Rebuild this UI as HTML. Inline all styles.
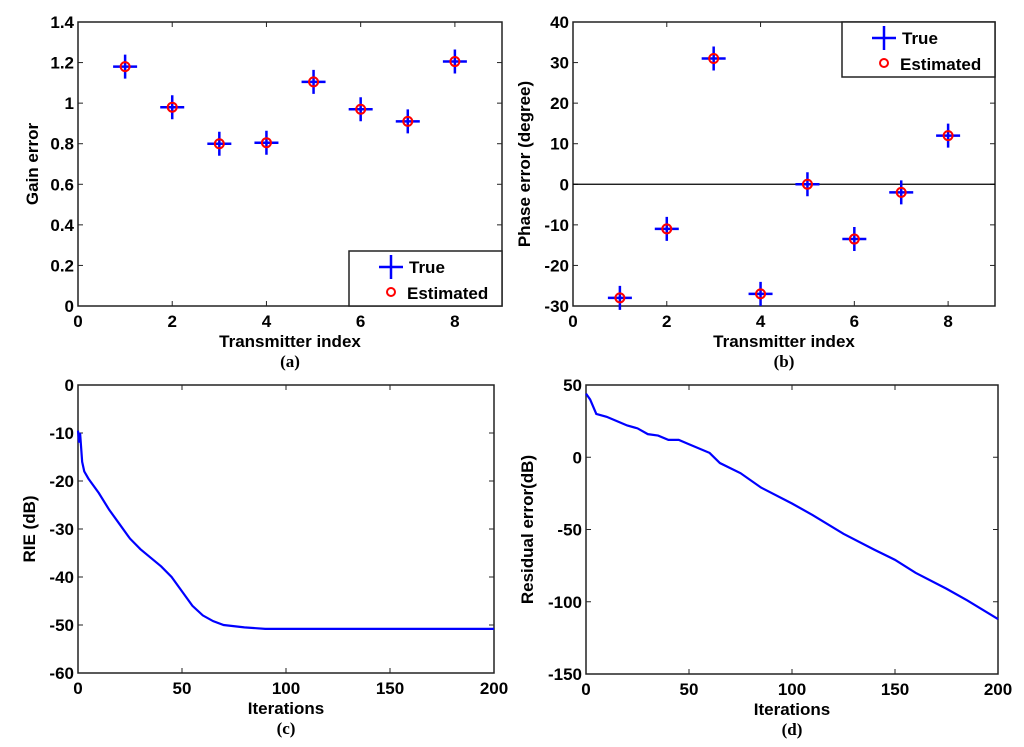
<!DOCTYPE html>
<html><head><meta charset="utf-8"><style>
body{margin:0;background:#fff}
svg{display:block}
text{font-family:"Liberation Sans",Arial,sans-serif;font-weight:bold;font-size:17px;fill:#000}
.cap{font-family:"Liberation Serif",serif;font-size:17px}
</style></head><body>
<svg id="c" width="1024" height="747"></svg>
<script>
const idxCats=[1,2,3,4,5,6,7,8];
const gainTrue=[1.18,0.98,0.80,0.805,1.105,0.97,0.91,1.205];
const gainEst=[1.18,0.98,0.80,0.805,1.105,0.97,0.91,1.205];
const phaseTrue=[-28,-11,31,-27,0,-13.5,-2,12];
const phaseEst=[-28,-11,31,-27,0,-13.5,-2,12];
const rieIter=[0,0.5,1,2,3,5,10,15,20,25,30,35,40,45,50,55,60,65,70,80,90,200];
const rieVal=[-9.5,-12,-10,-16,-18,-19.5,-22.5,-26,-29,-32,-34.2,-36,-37.8,-40,-43,-46,-48,-49.2,-50,-50.5,-50.8,-50.8];
const resIter=[0,2,5,10,15,20,25,30,35,40,45,50,60,65,75,85,100,110,125,140,150,160,175,185,200];
const resVal=[44,40,30,28,25,22,20,16,15,12,12,9,3,-4,-11,-21,-32,-40,-53,-64,-71,-80,-91,-99,-112];
const xTicksA=[0,2,4,6,8],yTicksA=[0,0.2,0.4,0.6,0.8,1,1.2,1.4];
const yTicksB=[-30,-20,-10,0,10,20,30,40];
const xTicksC=[0,50,100,150,200],yTicksC=[-60,-50,-40,-30,-20,-10,0];
const yTicksD=[-150,-100,-50,0,50];
const svg=document.getElementById('c');const NS='http://www.w3.org/2000/svg';
function mk(t,a,p){const e=document.createElementNS(NS,t);for(const k in a)e.setAttribute(k,a[k]);(p||svg).appendChild(e);return e;}
function axes(name,L,R,T,B,x0,x1,y0,y1,xt,yt,xl,yl,cap,ylx){
  const g=mk('g',{});
  
  
  const sx=v=>L+(v-x0)/(x1-x0)*(R-L),sy=v=>B-(v-y0)/(y1-y0)*(B-T);
  const fr=mk('rect',{x:L,y:T,width:R-L,height:B-T,fill:'none',stroke:'#222','stroke-width':1.5},g);
  
  xt.forEach(v=>{const x=sx(v);mk('line',{x1:x,x2:x,y1:B,y2:B-5,stroke:'#222'},g);mk('line',{x1:x,x2:x,y1:T,y2:T+5,stroke:'#222'},g);
    const t=mk('text',{x:x,y:B+21,'text-anchor':'middle'},g);t.textContent=v;
    });
  yt.forEach(v=>{const y=sy(v);mk('line',{x1:L,x2:L+5,y1:y,y2:y,stroke:'#222'},g);mk('line',{x1:R,x2:R-5,y1:y,y2:y,stroke:'#222'},g);
    const t=mk('text',{x:L-4,y:y+6,'text-anchor':'end'},g);t.textContent=v;
    });
  const xt2=mk('text',{x:(L+R)/2,y:B+41,'text-anchor':'middle'},g);xt2.textContent=xl;
  
  const yy=(T+B)/2;const yt2=mk('text',{x:ylx,y:yy,'text-anchor':'middle',transform:`rotate(-90 ${ylx} ${yy})`},g);yt2.textContent=yl;
  
  const c=mk('text',{x:(L+R)/2,y:B+61,'text-anchor':'middle',class:'cap'},g);c.textContent=cap;
  
  return {g,sx,sy};
}
function scatter(ax,xs,tr,es){
  xs.forEach((xv,i)=>{const x=ax.sx(xv),y=ax.sy(tr[i]);
    const p=mk('path',{d:`M${x-12} ${y}H${x+12}M${x} ${y-12}V${y+12}`,stroke:'#0000ff','stroke-width':2.5},ax.g);
    
    const c=mk('circle',{cx:x,cy:ax.sy(es[i]),r:4.5,fill:'none',stroke:'#ff0000','stroke-width':2},ax.g);
    });
}
function legend(ax,x,y,w,h){
  const lg=mk('g',{},ax.g);
  mk('rect',{x:x,y:y,width:w,height:h,fill:'#fff',stroke:'#222','stroke-width':1.5},lg);
  mk('path',{d:`M${x+30} ${y+16}H${x+54}M${x+42} ${y+4}V${y+28}`,stroke:'#0000ff','stroke-width':2.5},lg);
  const t1=mk('text',{x:x+60,y:y+22},lg);t1.textContent='True';
  
  mk('circle',{cx:x+42,cy:y+41,r:4,fill:'none',stroke:'#ff0000','stroke-width':2},lg);
  const t2=mk('text',{x:x+58,y:y+48},lg);t2.textContent='Estimated';
  
}
function line(ax,xs,ys,name){
  const p=mk('polyline',{points:xs.map((v,i)=>ax.sx(v)+','+ax.sy(ys[i])).join(' '),fill:'none',stroke:'#0000ff','stroke-width':2.2},ax.g);
  
}
const a=axes('gain-error-panel',78,502,22,306,0,9,0,1.4,xTicksA,yTicksA,'Transmitter index','Gain error','(a)',38);
scatter(a,idxCats,gainTrue,gainEst);legend(a,349,251,153,55);
const b=axes('phase-error-panel',573,995,22,306,0,9,-30,40,xTicksA,yTicksB,'Transmitter index','Phase error (degree)','(b)',530);
const zl=mk('line',{x1:573,x2:995,y1:b.sy(0),y2:b.sy(0),stroke:'#000','stroke-width':1.2},b.g);

scatter(b,idxCats,phaseTrue,phaseEst);legend(b,842,22,153,55);
const c=axes('rie-panel',78,494,385,673,0,200,-60,0,xTicksC,yTicksC,'Iterations','RIE (dB)','(c)',35);
line(c,rieIter,rieVal,'rie-line');
const d=axes('residual-panel',586,998,385,674,0,200,-150,50,xTicksC,yTicksD,'Iterations','Residual error(dB)','(d)',533);
line(d,resIter,resVal,'residual-line');
</script>
</body></html>
